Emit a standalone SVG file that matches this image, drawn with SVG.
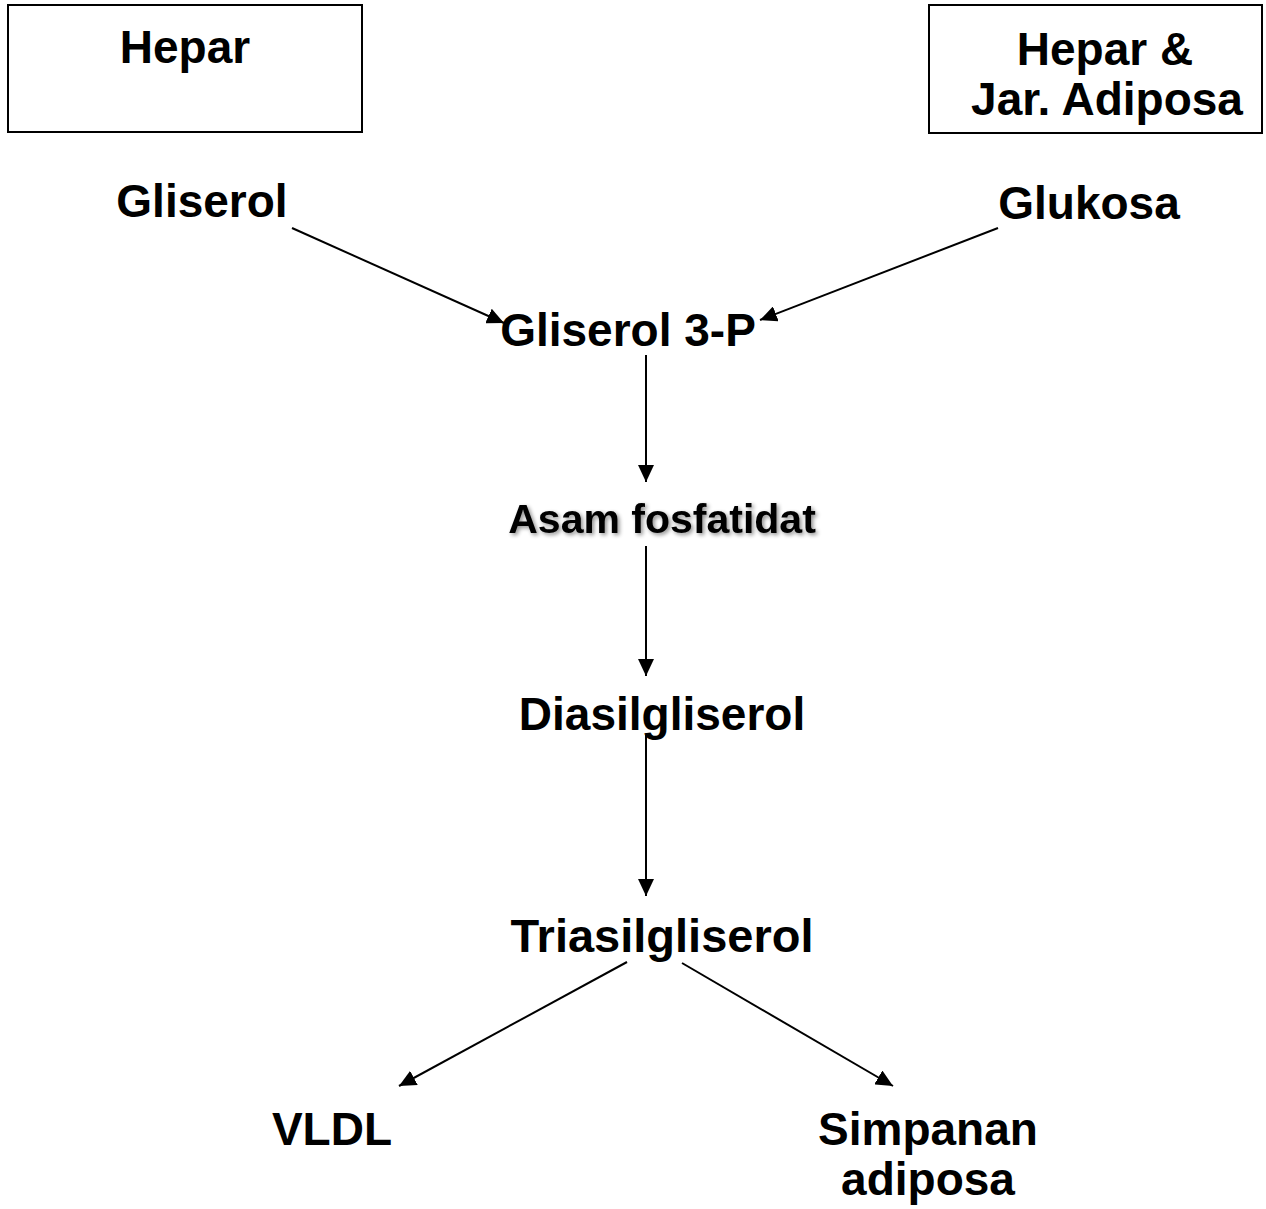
<svg xmlns="http://www.w3.org/2000/svg" width="1266" height="1209" viewBox="0 0 1266 1209">
<style>
.t{font-family:"Liberation Sans",Arial,sans-serif;font-weight:bold;font-size:46px;fill:#000;text-anchor:middle}
.s{font-size:41px}
.box{fill:#fff;stroke:#000;stroke-width:2}
.c{stroke:#000;stroke-width:2;fill:none;marker-end:url(#ah)}
</style>
<defs>
<marker id="ah" markerUnits="userSpaceOnUse" markerWidth="17" markerHeight="16" refX="17" refY="8" orient="auto">
<path d="M0,0 L17,8 L0,16 Z" fill="#000"/>
</marker>
<filter id="sh" x="-10%" y="-30%" width="130%" height="160%">
<feGaussianBlur in="SourceAlpha" stdDeviation="2"/>
<feOffset dx="2" dy="2" result="b"/>
<feComponentTransfer><feFuncA type="linear" slope="0.45"/></feComponentTransfer>
<feMerge><feMergeNode/><feMergeNode in="SourceGraphic"/></feMerge>
</filter>
</defs>
<rect width="1266" height="1209" fill="#fff"/>
<g id="hepar"><rect class="box" x="8" y="5" width="354" height="127"/><text class="t" x="185" y="63">Hepar</text></g>
<g id="hepar-adiposa"><rect class="box" x="929" y="5" width="333" height="128"/><text class="t" x="1105" y="65">Hepar &amp;</text><text class="t" x="1107" y="115">Jar. Adiposa</text></g>
<g id="gliserol"><text class="t" x="202" y="217">Gliserol</text></g>
<g id="glukosa"><text class="t" x="1089" y="219">Glukosa</text></g>
<g id="gliserol3p"><text class="t" x="628" y="346">Gliserol 3-P</text></g>
<g id="asam"><text class="t s" x="662" y="533" filter="url(#sh)">Asam fosfatidat</text></g>
<g id="diasil"><text class="t" x="662" y="730">Diasilgliserol</text></g>
<g id="triasil"><text class="t" x="662" y="952" style="font-size:47px">Triasilgliserol</text></g>
<g id="vldl"><text class="t" x="332" y="1145">VLDL</text></g>
<g id="simpanan"><text class="t" x="928" y="1145">Simpanan</text><text class="t" x="928" y="1195">adiposa</text></g>
<g id="connectors">
<line class="c" x1="292" y1="228" x2="504" y2="323"/>
<line class="c" x1="998" y1="228" x2="760" y2="320"/>
<line class="c" x1="646" y1="355" x2="646" y2="482"/>
<line class="c" x1="646" y1="546" x2="646" y2="676"/>
<line class="c" x1="646" y1="735" x2="646" y2="896"/>
<line class="c" x1="627" y1="962" x2="399" y2="1086"/>
<line class="c" x1="682" y1="963" x2="893" y2="1086"/>
</g>
</svg>
